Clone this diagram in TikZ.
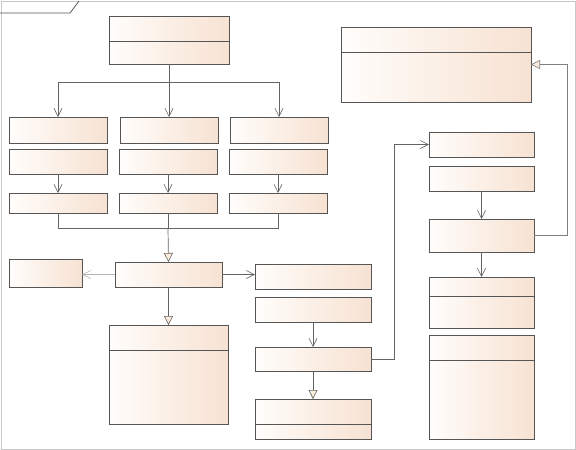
\documentclass[tikz,border=0pt]{standalone}
\usetikzlibrary{arrows.meta,shadows}
\definecolor{peach}{RGB}{247,226,210}
\definecolor{paleleft}{RGB}{255,253,251}
\definecolor{boxline}{RGB}{85,85,85}
\definecolor{connline}{RGB}{100,100,100}
\definecolor{lightconn}{RGB}{180,180,180}
\definecolor{framecol}{RGB}{200,200,200}
\definecolor{tricream}{RGB}{251,236,218}
\tikzset{
  umlbox/.style={draw=boxline, line width=0.8pt, left color=paleleft, right color=peach,
    inner sep=0pt, outer sep=0pt,
    drop shadow={shadow xshift=1.3pt, shadow yshift=-1.3pt, fill=black, opacity=0.22}},
  conn/.style={draw=connline, line width=0.7pt},
  vtip/.style={-{Straight Barb[length=8pt,width=8pt,line width=0.6pt]}},
  tritip/.style={-{Triangle[length=9pt,width=9pt,fill=tricream,line width=0.6pt]}},
  divider/.style={draw=boxline, line width=0.8pt}
}
% \ubox{name}{x1}{y1}{x2}{y2}
\newcommand{\ubox}[5]{%
  \node[umlbox, minimum width={(#4-#2)*1pt}, minimum height={(#5-#3)*1pt}]
    (#1) at ({(#2+#4)/2},{(#3+#5)/2}) {};}
\newcommand{\udiv}[2]{% name, y
  \draw[divider] (#1.west |- 0,#2) -- (#1.east |- 0,#2);}
\begin{document}
\begin{tikzpicture}[x=1pt,y=-1pt]
\useasboundingbox (0,0) rectangle (576,450);
% frame
\draw[framecol, line width=0.8pt] (1,1) rectangle (575,449);
\draw[boxline, line width=0.8pt] (0,13) -- (70,13) -- (79,1);
% boxes
\ubox{T}{109}{16}{229}{64}
\udiv{T}{41.7}
\ubox{TR}{341}{27}{531}{102}
\udiv{TR}{52.3}
\ubox{Ra}{9}{117}{107}{143}
\ubox{Rb}{120}{117}{218}{143}
\ubox{Rc}{230}{117}{328}{143}
\ubox{Sa}{9}{149}{107}{174}
\ubox{Sb}{119}{149}{217}{174}
\ubox{Sc}{229}{149}{327}{174}
\ubox{Ua}{9}{193}{107}{213}
\ubox{Ub}{119}{193}{217}{213}
\ubox{Uc}{229}{193}{327}{213}
\ubox{L}{9}{259}{82}{287}
\ubox{M}{115}{262}{222}{287}
\ubox{BL}{109}{325}{228}{424}
\udiv{BL}{350}
\ubox{A}{255}{264}{371}{289}
\ubox{B}{255}{297}{371}{322}
\ubox{C}{255}{347}{371}{371}
\ubox{D}{255}{399}{371}{439}
\udiv{D}{424}
\ubox{E}{429}{132}{534}{157}
\ubox{F}{429}{166}{534}{191}
\ubox{G}{429}{219}{534}{252}
\ubox{H}{429}{277}{534}{328}
\udiv{H}{296}
\ubox{I}{429}{335}{534}{439}
\udiv{I}{360}
% connectors
\coordinate (j1) at (169,82);
\draw[conn] (T.south) -- (j1);
\draw[conn,vtip] (j1) -| (Ra.north);
\draw[conn,vtip] (j1) -- (Rb.north);
\draw[conn,vtip] (j1) -| (Rc.north);
\draw[conn,vtip] (Sa.south) -- (Ua.north);
\draw[conn,vtip] (Sb.south) -- (Ub.north);
\draw[conn,vtip] (Sc.south) -- (Uc.north);
\coordinate (j2) at (168,228);
\draw[conn] (Ua.south) |- (j2);
\draw[conn] (Uc.south) |- (j2);
\draw[conn] (Ub.south) -- (j2);
\draw[conn,tritip] (j2) -- (M.north);
\draw[draw=lightconn, line width=0.7pt, vtip] (M.west) -- (M.west -| L.east);
\draw[conn,vtip] (M.east) -- (M.east -| A.west);
\draw[conn,tritip] (M.south) -- (BL.north);
\draw[conn,vtip] (B.south) -- (C.north);
\draw[conn,tritip] (C.south) -- (D.north);
\draw[conn,vtip] (C.east) -- ++(23,0) |- (E.west);
\draw[conn,vtip] (F.south) -- (G.north);
\draw[conn,vtip] (G.south) -- (H.north);
\draw[draw=gray, line width=0.7pt, tritip] (G.east) -- ++(33,0) |- (TR.east);
\end{tikzpicture}
\end{document}
